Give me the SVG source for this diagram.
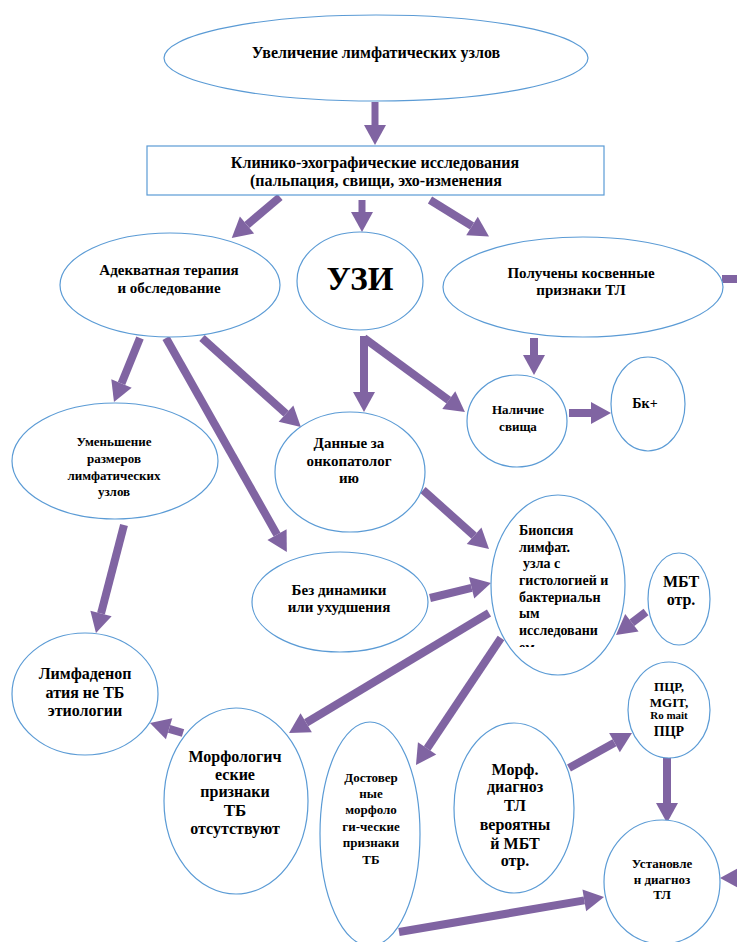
<svg xmlns="http://www.w3.org/2000/svg" width="737" height="942" viewBox="0 0 737 942">
<style>
.n{fill:#fff;stroke:#5B9BD5;stroke-width:1.2}
.t{font-family:"Liberation Serif","Times New Roman",serif;font-weight:bold;fill:#000;text-anchor:middle}
.l{font-family:"Liberation Serif","Times New Roman",serif;font-weight:bold;fill:#000}
.a{stroke:#8064A2;stroke-width:8;fill:none;marker-end:url(#h)}
.b{stroke:#8064A2;stroke-width:7;fill:none;marker-end:url(#h)}
</style>
<defs>
<marker id="h" markerUnits="userSpaceOnUse" markerWidth="20" markerHeight="22" viewBox="0 0 20 22" refX="0" refY="11" orient="auto" overflow="visible">
<path d="M0,0 L20,11 L0,22 z" fill="#8064A2"/>
</marker>
<clipPath id="cb"><rect x="480" y="490" width="160" height="157"/></clipPath>
</defs>
<rect width="737" height="942" fill="#fff"/>
<g id="connectors">
<line class="b" x1="375" y1="102" x2="375" y2="125"/>
<line class="a" x1="280" y1="197" x2="247" y2="225"/>
<line class="b" x1="362" y1="200" x2="362" y2="212"/>
<line class="a" x1="430" y1="200" x2="472" y2="226"/>
<line stroke="#8064A2" stroke-width="8" x1="722" y1="279" x2="760" y2="279"/>
<line class="a" x1="140" y1="338" x2="121.5" y2="383.5"/>
<line class="a" x1="166" y1="338" x2="277" y2="534.6"/>
<line class="a" x1="202" y1="338" x2="286" y2="413.6"/>
<line class="a" x1="364" y1="336" x2="364" y2="392"/>
<line class="a" x1="364" y1="338" x2="448.8" y2="400.2"/>
<line class="a" x1="534" y1="338" x2="534" y2="355"/>
<line class="a" x1="569" y1="413" x2="591" y2="413"/>
<line class="a" x1="124" y1="525" x2="101" y2="613.6"/>
<line class="a" x1="423" y1="490" x2="474.1" y2="535.7"/>
<line class="a" x1="430" y1="598" x2="471.6" y2="587.8"/>
<line class="a" x1="646" y1="612" x2="631.9" y2="622.8"/>
<line class="a" x1="489" y1="613" x2="306.2" y2="722.7"/>
<line class="a" x1="501" y1="638" x2="427.1" y2="748.4"/>
<line class="a" x1="183" y1="733" x2="169.1" y2="728.8"/>
<line class="a" x1="569" y1="768" x2="614.5" y2="742.7"/>
<line class="a" x1="667" y1="757" x2="667" y2="803"/>
<line class="a" x1="399" y1="932" x2="584.3" y2="900.4"/>
<line class="a" x1="780" y1="878" x2="740" y2="878"/>
</g>
<g id="n1"><ellipse class="n" cx="376" cy="58" rx="212" ry="43"/><text class="t" x="376" y="58" font-size="16">Увеличение лимфатических узлов</text></g>
<g id="n2"><rect class="n" x="147" y="146" width="457" height="49"/><text class="t" x="375" y="168" font-size="16">Клинико-эхографические исследования</text><text class="t" x="376" y="186" font-size="16">(пальпация, свищи, эхо-изменения</text></g>
<g id="n3"><ellipse class="n" cx="170" cy="285" rx="110" ry="52"/><text class="t" x="169" y="275" font-size="15">Адекватная терапия</text><text class="t" x="169" y="293" font-size="15">и обследование</text></g>
<g id="n4"><ellipse class="n" cx="360" cy="281" rx="63" ry="49"/><text class="t" x="360" y="290" font-size="33">УЗИ</text></g>
<g id="n5"><ellipse class="n" cx="583" cy="287" rx="140" ry="50"/><text class="t" x="581" y="278" font-size="15">Получены косвенные</text><text class="t" x="581" y="295" font-size="15">признаки ТЛ</text></g>
<g id="n6"><ellipse class="n" cx="517" cy="421" rx="50" ry="46"/><text class="t" x="518" y="414" font-size="13">Наличие</text><text class="t" x="518" y="431" font-size="13">свища</text></g>
<g id="n7"><ellipse class="n" cx="648" cy="404" rx="37" ry="47"/><text class="t" x="645" y="408" font-size="14">Бк+</text></g>
<g id="n8"><ellipse class="n" cx="115" cy="461" rx="103" ry="58"/><text class="t" x="114" y="446" font-size="13">Уменьшение</text><text class="t" x="114" y="463" font-size="13">размеров</text><text class="t" x="114" y="480" font-size="13">лимфатических</text><text class="t" x="114" y="496" font-size="13">узлов</text></g>
<g id="n9"><ellipse class="n" cx="350" cy="472" rx="75" ry="60"/><text class="t" x="349" y="448" font-size="15">Данные за</text><text class="t" x="349" y="466" font-size="15">онкопатолог</text><text class="t" x="349" y="483" font-size="15">ию</text></g>
<g id="n10"><ellipse class="n" cx="340" cy="602" rx="88" ry="50"/><text class="t" x="339" y="595" font-size="15">Без динамики</text><text class="t" x="339" y="612" font-size="15">или ухудшения</text></g>
<g id="n11"><ellipse class="n" cx="558" cy="585" rx="67" ry="90"/><g clip-path="url(#cb)" font-size="14"><text class="l" x="519" y="535">Биопсия</text><text class="l" x="519" y="552">лимфат.</text><text class="l" x="523" y="568">узла с</text><text class="l" x="519" y="585">гистологией и</text><text class="l" x="519" y="602">бактериальн</text><text class="l" x="519" y="618">ым</text><text class="l" x="519" y="635">исследовани</text><text class="l" x="519" y="652">ем</text></g></g>
<g id="n12"><ellipse class="n" cx="679" cy="599" rx="31" ry="46"/><text class="t" x="681" y="587" font-size="16">МБТ</text><text class="t" x="681" y="605" font-size="16">отр.</text></g>
<g id="n13"><ellipse class="n" cx="85" cy="694" rx="73" ry="61"/><text class="t" x="85" y="679" font-size="16">Лимфаденоп</text><text class="t" x="85" y="698" font-size="16">атия не ТБ</text><text class="t" x="85" y="716" font-size="16">этиологии</text></g>
<g id="n14"><ellipse class="n" cx="669" cy="710" rx="41" ry="48"/><text class="t" x="669" y="691" font-size="13">ПЦР,</text><text class="t" x="669" y="707" font-size="13">MGIT,</text><text class="t" x="669" y="719" font-size="11">Ro mait</text><text class="t" x="669" y="736" font-size="14">ПЦР</text></g>
<g id="n15"><ellipse class="n" cx="236" cy="801" rx="72" ry="93"/><text class="t" x="235" y="762" font-size="16">Морфологич</text><text class="t" x="235" y="780" font-size="16">еские</text><text class="t" x="235" y="797" font-size="16">признаки</text><text class="t" x="235" y="816" font-size="17">ТБ</text><text class="t" x="235" y="834" font-size="16">отсутствуют</text></g>
<g id="n16"><ellipse class="n" cx="370" cy="834" rx="50" ry="112"/><text class="t" x="371" y="782" font-size="13">Достовер</text><text class="t" x="371" y="798" font-size="13">ные</text><text class="t" x="371" y="814" font-size="13">морфоло</text><text class="t" x="371" y="831" font-size="13">ги-ческие</text><text class="t" x="371" y="847" font-size="13">признаки</text><text class="t" x="371" y="864" font-size="13">ТБ</text></g>
<g id="n17"><ellipse class="n" cx="514" cy="808" rx="60" ry="85"/><text class="t" x="515" y="775" font-size="16">Морф.</text><text class="t" x="515" y="792" font-size="16">диагноз</text><text class="t" x="515" y="811" font-size="16">ТЛ</text><text class="t" x="515" y="830" font-size="16">вероятны</text><text class="t" x="515" y="849" font-size="16">й МБТ</text><text class="t" x="515" y="866" font-size="16">отр.</text></g>
<g id="n18"><ellipse class="n" cx="662" cy="882" rx="58" ry="62"/><text class="t" x="662" y="868" font-size="13">Установле</text><text class="t" x="662" y="884" font-size="13">н диагноз</text><text class="t" x="662" y="899" font-size="13">ТЛ</text></g>
</svg>
